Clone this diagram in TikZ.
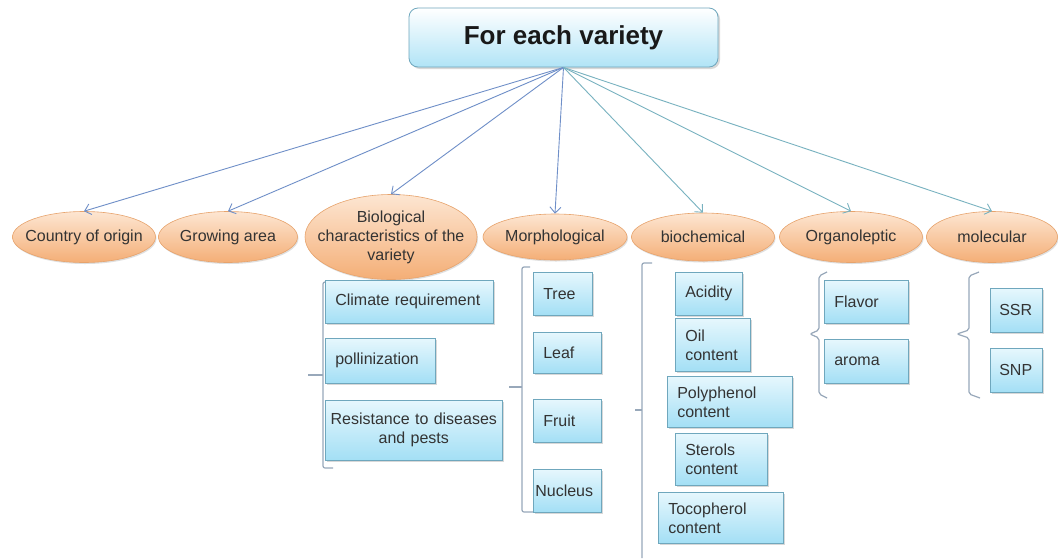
\documentclass[tikz,border=0pt]{standalone}
\usepackage{fontspec}
\setmainfont{Liberation Sans}
\usetikzlibrary{shapes.geometric,arrows.meta,shadows}
\definecolor{boxtop}{HTML}{E6F7FD}
\definecolor{boxbot}{HTML}{A3DFF5}
\definecolor{boxline}{HTML}{6FA7BD}
\definecolor{elltop}{HTML}{FDE6D2}
\definecolor{ellbot}{HTML}{F4AE76}
\definecolor{ellline}{HTML}{E7A36C}
\definecolor{arrblue}{HTML}{6F8FC8}
\definecolor{arrteal}{HTML}{78B2C0}
\definecolor{brkc}{HTML}{98A8BA}
\definecolor{txtc}{HTML}{333333}
\tikzset{
  ell/.style={ellipse, draw=ellline, line width=0.6pt, top color=elltop, bottom color=ellbot,
    inner sep=0pt, drop shadow={opacity=0.25, shadow xshift=1pt, shadow yshift=-1.5pt}},
  elltext/.style={text=txtc, font=\fontsize{16}{19}\selectfont, align=center},
  bx/.style={rectangle, draw=boxline, line width=0.6pt, top color=boxtop, bottom color=boxbot,
    inner xsep=10pt, inner ysep=0pt, align=left, anchor=north west, text=txtc,
    font=\fontsize{16}{19}\selectfont,
    drop shadow={opacity=0.3, shadow xshift=1.5pt, shadow yshift=-1.5pt}},
  topbox/.style={rectangle, rounded corners=9pt, draw=boxline, line width=0.8pt,
    top color=white, bottom color=boxbot!85, minimum width=309pt, minimum height=59pt,
    font=\fontsize{26}{30}\selectfont\bfseries, text=black!90,
    drop shadow={opacity=0.3, shadow xshift=2pt, shadow yshift=-2pt}},
  arr/.style={-{Straight Barb[length=6pt,width=11pt]}, line width=0.9pt},
  brk/.style={draw=brkc, line width=1.2pt, rounded corners=2pt}
}
\begin{document}
\begin{tikzpicture}[x=1pt,y=-1pt]
\useasboundingbox[fill=white] (0,0) rectangle (1058,558);

\node[topbox] (top) at (563.5,37.5) {For each variety};

\node[ell, minimum width=143pt, minimum height=51pt, label={[elltext]center:Country of origin}] (e1) at (84,237) {};
\node[ell, minimum width=139pt, minimum height=51pt, label={[elltext]center:Growing area}] (e2) at (228,237) {};
\node[ell, minimum width=172pt, minimum height=85pt, label={[elltext]center:Biological\\characteristics of the\\variety}] (e3) at (391,237) {};
\node[ell, minimum width=144pt, minimum height=46pt, label={[elltext]center:Morphological}] (e4) at (555,237) {};
\node[ell, minimum width=143pt, minimum height=48pt, label={[elltext]center:biochemical}] (e5) at (703,237) {};
\node[ell, minimum width=143pt, minimum height=51pt, label={[elltext]center:Organoleptic}] (e6) at (851,237) {};
\node[ell, minimum width=131pt, minimum height=51pt, label={[elltext]center:molecular}] (e7) at (992,237) {};

\draw[arr, arrblue] (top.south) -- (e1.north);
\draw[arr, arrblue] (top.south) -- (e2.north);
\draw[arr, arrblue] (top.south) -- (e3.north);
\draw[arr, arrblue] (top.south) -- (e4.north);
\draw[arr, arrteal] (top.south) -- (e5.north);
\draw[arr, arrteal] (top.south) -- (e6.north);
\draw[arr, arrteal] (top.south) -- (e7.north);

% Biological
\draw[brk] (333,282) -- (323,282) -- (323,468) -- (333,468);
\draw[brk] (308,375) -- (323,375);
\node[bx, text width=148pt, minimum height=43pt] (clim) at (325,280) {Climate requirement};
\node[bx, text width=90pt, minimum height=45pt] (poll) at (325,338) {pollinization};
\node[bx, inner xsep=3pt, text width=171pt, minimum height=60pt, align=center] (res) at (325,400) {Resistance to diseases\\and pests};

% Morphological
\draw[brk] (530,267) -- (522,267) -- (522,512) -- (535,512);
\draw[brk] (509,387) -- (522,387);
\node[bx, text width=39pt, minimum height=43pt] (tree) at (533,272) {Tree};
\node[bx, text width=48pt, minimum height=41pt] (leaf) at (533,332) {Leaf};
\node[bx, text width=48pt, minimum height=43pt] (fruit) at (533,399) {Fruit};
\node[bx, inner xsep=2pt, text width=64pt, minimum height=43pt] (nuc) at (533,469) {Nucleus};

% biochemical
\draw[brk] (652,263) -- (642,263) -- (642,558);
\draw[brk] (635,410) -- (642,410);
\node[bx, text width=47pt, minimum height=43pt] (acid) at (675,272) {Acidity};
\node[bx, text width=55pt, minimum height=53pt] (oil) at (675,318) {Oil\\content};
\node[bx, text width=105pt, minimum height=51pt] (poly) at (667,376) {Polyphenol\\content};
\node[bx, text width=72pt, minimum height=52pt] (ster) at (675,433) {Sterols\\content};
\node[bx, text width=105pt, minimum height=51pt] (toco) at (658,492) {Tocopherol\\content};

% Organoleptic
\draw[brk] (827,272) -- (819,276) -- (819,330) -- (810,334) -- (819,338) -- (819,394) -- (827,398);
\node[bx, text width=64pt, minimum height=43pt] (flav) at (824,280) {Flavor};
\node[bx, text width=64pt, minimum height=44pt] (arom) at (824,339) {aroma};

% molecular
\draw[brk] (979,272) -- (969,276) -- (969,330) -- (957,334) -- (969,338) -- (969,394) -- (980,398);
\node[bx, inner xsep=9pt, text width=34pt, minimum height=44pt] (ssr) at (990,288) {\raisebox{-5pt}{SSR}};
\node[bx, inner xsep=9pt, text width=34pt, minimum height=44pt] (snp) at (990,348) {SNP};
\end{tikzpicture}
\end{document}
